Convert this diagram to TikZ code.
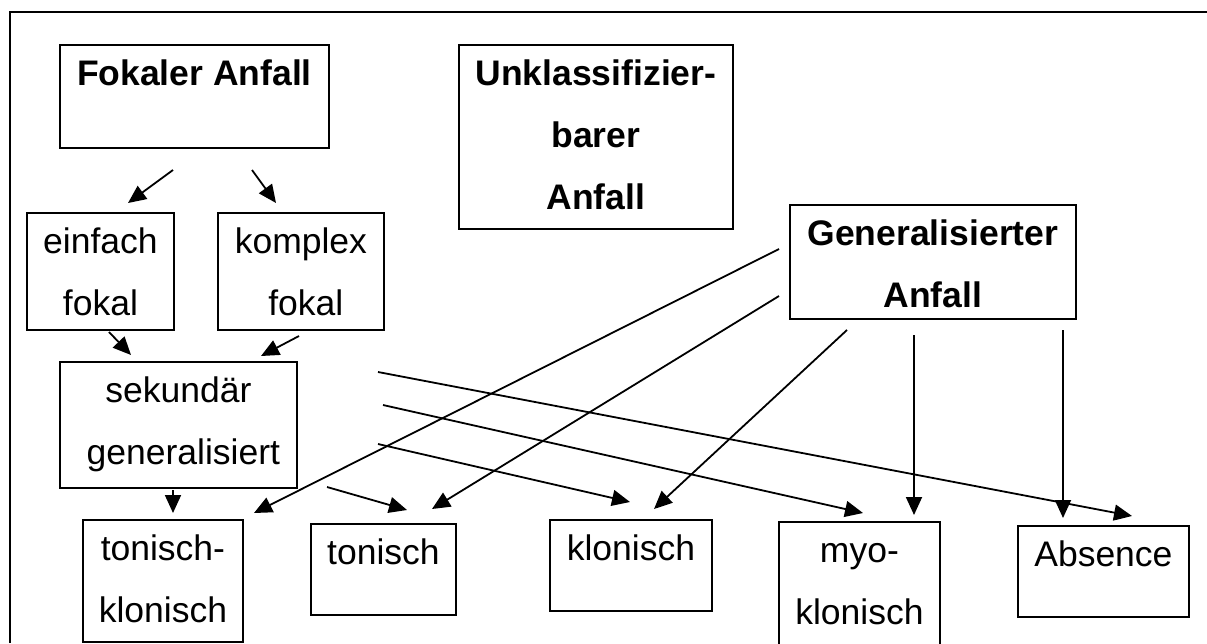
\documentclass[tikz,border=0pt]{standalone}
\usepackage{fontspec}
\setmainfont{Liberation Sans}
\usetikzlibrary{arrows.meta}
\newcommand{\mytop}{\rule{0pt}{41pt}}
\newcommand{\mybot}[1]{\rule[-#1pt]{0pt}{#1pt}}
\tikzset{
  box/.style={draw, line width=1.8pt, anchor=north west, align=center,
    inner xsep=0pt, inner ysep=0pt, font=\fontsize{35.5}{62}\selectfont},
  boldbox/.style={box, font=\fontsize{35.5}{62}\selectfont\bfseries},
  arr/.style={line width=1.8pt, -{Triangle[length=18pt,width=16pt]}},
  frameline/.style={line width=2pt}
}
\begin{document}
\begin{tikzpicture}[x=1pt,y=-1pt]
\useasboundingbox (0,0) rectangle (1207,643);
% outer frame (top and left edges visible)
\coordinate (fr1) at (10,643);
\coordinate (fr2) at (10,12);
\coordinate (fr3) at (1207,12);
\draw[frameline] (fr1) -- (fr2) -- (fr3);

% boxes
\node[boldbox, minimum width=269pt] (fok) at (59,44) {\mytop Fokaler Anfall\mybot{62}};
\node[boldbox, minimum width=274pt] (unk) at (458,44) {\mytop Unklassifizier-\\barer\\Anfall\mybot{19}};
\node[boldbox, minimum width=286pt] (gen) at (789,204) {\mytop Generalisierter\\Anfall\mybot{11}};
\node[box, minimum width=147pt] (einf) at (26,212) {\mytop einfach\\fokal\mybot{14}};
\node[box, minimum width=166pt] (kompl) at (217,212) {\mytop komplex\\\ fokal\mybot{14}};
\node[box, minimum width=237pt] (sek) at (59,361) {\mytop sekundär\\\ generalisiert\mybot{23}};
\node[box, minimum width=160pt] (tk) at (82,519) {\mytop tonisch-\\klonisch\mybot{19}};
\node[box, minimum width=145pt] (ton) at (310,523) {\mytop tonisch\mybot{50}};
\node[box, minimum width=162pt] (klon) at (549,519) {\mytop klonisch\mybot{50}};
\node[box, minimum width=161pt] (myo) at (778,521) {\mytop myo-\\klonisch\mybot{23}};
\node[box, minimum width=171pt] (abs) at (1017,525) {\mytop Absence\mybot{50}};

% arrow end points
\coordinate (f1s) at (173,170); \coordinate (f1e) at (128,203);
\coordinate (f2s) at (252,170); \coordinate (f2e) at (276,203);
\coordinate (e1s) at (109,332); \coordinate (e1e) at (131,355);
\coordinate (k1s) at (299,336); \coordinate (k1e) at (261,356);
\coordinate (s0s) at (173,490); \coordinate (s0e) at (173,513);
\coordinate (sas) at (378,372); \coordinate (sae) at (1132,516);
\coordinate (sbs) at (383,405); \coordinate (sbe) at (863,513);
\coordinate (scs) at (378,444); \coordinate (sce) at (630,502);
\coordinate (sds) at (327,487); \coordinate (sde) at (407,510);
\coordinate (g1s) at (779,249); \coordinate (g1e) at (254,513);
\coordinate (g2s) at (779,296); \coordinate (g2e) at (432,509);
\coordinate (g3s) at (847,330); \coordinate (g3e) at (654,509);
\coordinate (g4s) at (914,335); \coordinate (g4e) at (914,515);
\coordinate (g5s) at (1063,330); \coordinate (g5e) at (1063,518);

% arrows
\draw[arr] (f1s) -- (f1e);
\draw[arr] (f2s) -- (f2e);
\draw[arr] (e1s) -- (e1e);
\draw[arr] (k1s) -- (k1e);
\draw[arr] (s0s) -- (s0e);
\draw[arr] (sas) -- (sae);
\draw[arr] (sbs) -- (sbe);
\draw[arr] (scs) -- (sce);
\draw[arr] (sds) -- (sde);
\draw[arr] (g1s) -- (g1e);
\draw[arr] (g2s) -- (g2e);
\draw[arr] (g3s) -- (g3e);
\draw[arr] (g4s) -- (g4e);
\draw[arr] (g5s) -- (g5e);
\end{tikzpicture}
\end{document}
